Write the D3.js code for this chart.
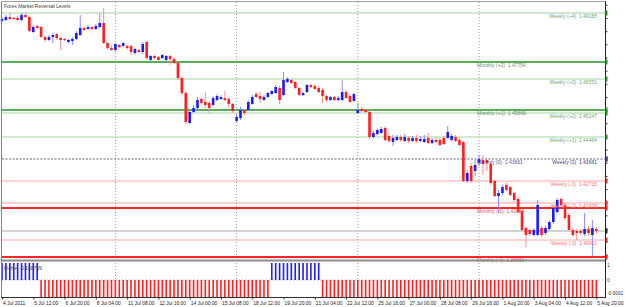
<!DOCTYPE html>
<html>
<head>
<meta charset="utf-8">
<script src="https://cdn.jsdelivr.net/npm/d3@7"></script>
<style>
  html, body { margin: 0; padding: 0; background: #fff; }
  svg { display: block; font-family: "Liberation Sans", Arial, sans-serif; }
  text { white-space: pre; }
</style>
</head>
<body>
<svg id="chart" width="625" height="307"></svg>
<script>
// EURUSD H4, 4 Jul 2011 - 5 Aug 2011
const opens = [
  1.48886,1.48924,1.49038,1.49000,1.49000,1.48924,1.49114,1.49038,1.48468,1.48696,
  1.48658,1.48278,1.48164,1.48278,1.48392,1.48240,1.48202,1.48088,1.48126,1.48202,
  1.48354,1.48620,1.48582,1.48658,1.48582,1.48658,1.48810,1.48050,1.47860,1.47784,
  1.47974,1.47936,1.47936,1.47936,1.47670,1.47784,1.47708,1.48088,1.47404,1.47556,
  1.47518,1.47480,1.47404,1.47556,1.47442,1.47290,1.46720,1.46150,1.45010,1.45428,
  1.45580,1.45922,1.45808,1.45770,1.45694,1.45884,1.45922,1.45960,1.45922,1.45732,
  1.45086,1.45200,1.45504,1.45504,1.45732,1.46112,1.46036,1.45884,1.45998,1.46112,
  1.46150,1.46340,1.46074,1.46568,1.46644,1.46568,1.46340,1.46074,1.46188,1.46454,
  1.46416,1.46340,1.46264,1.46036,1.45884,1.45998,1.45884,1.45884,1.46188,1.46036,
  1.45846,1.45390,1.45542,1.45504,1.45428,1.44478,1.44592,1.44630,1.44820,1.44516,
  1.44288,1.44364,1.44478,1.44326,1.44440,1.44326,1.44440,1.44326,1.44288,1.44440,
  1.44250,1.44364,1.44364,1.44440,1.44440,1.44364,1.44478,1.44364,1.44288,1.42806,
  1.43376,1.43186,1.43490,1.43604,1.43604,1.43452,1.42806,1.42236,1.42350,1.42654,
  1.42578,1.42350,1.42122,1.41666,1.41020,1.40944,1.40754,1.40754,1.41020,1.40830,
  1.40982,1.41248,1.41628,1.42122,1.41894,1.41514,1.40944,1.40906,1.40906,1.40792,
  1.40982,1.40754,1.40982
];
const highs = [
  1.49038,1.49114,1.49190,1.49038,1.49076,1.49190,1.49190,1.49076,1.48734,1.48734,
  1.48696,1.48316,1.48354,1.48430,1.48430,1.48278,1.48240,1.48202,1.48278,1.48506,
  1.49114,1.48658,1.48734,1.48696,1.48772,1.49190,1.49380,1.48088,1.47936,1.48050,
  1.48012,1.48088,1.47974,1.47974,1.47860,1.47822,1.48088,1.48126,1.47594,1.47594,
  1.47556,1.47632,1.47594,1.47594,1.47518,1.47328,1.46796,1.46226,1.45504,1.45694,
  1.45998,1.45998,1.46188,1.45846,1.46036,1.46112,1.46074,1.46226,1.45998,1.45770,
  1.45352,1.45618,1.45542,1.45884,1.46074,1.46188,1.46188,1.46074,1.46188,1.46264,
  1.46454,1.46416,1.46948,1.46758,1.46682,1.46606,1.46378,1.46188,1.46492,1.46492,
  1.46492,1.46416,1.46340,1.46074,1.46036,1.46036,1.46036,1.46644,1.46264,1.46112,
  1.46150,1.45770,1.45618,1.45542,1.45466,1.44706,1.44782,1.44858,1.44896,1.44630,
  1.44554,1.44554,1.44554,1.44592,1.44516,1.44516,1.44554,1.44516,1.44554,1.44630,
  1.44440,1.44478,1.44440,1.44516,1.44896,1.44592,1.44554,1.44440,1.44326,1.43224,
  1.43490,1.43604,1.43794,1.43794,1.43680,1.43528,1.42844,1.42464,1.42654,1.42730,
  1.42616,1.42388,1.42198,1.41704,1.41058,1.40982,1.41020,1.42084,1.41096,1.41096,
  1.41324,1.41894,1.42160,1.42198,1.41970,1.41590,1.41020,1.40982,1.40982,1.41590,
  1.41096,1.41324,1.41058
];
const lows = [
  1.48848,1.48886,1.48924,1.48924,1.48886,1.48886,1.49000,1.48468,1.48430,1.48582,
  1.48240,1.48088,1.48126,1.48050,1.48164,1.47784,1.48126,1.48050,1.47974,1.48164,
  1.48316,1.48506,1.48544,1.48544,1.48544,1.48620,1.48012,1.47784,1.47746,1.47708,
  1.47860,1.47898,1.47784,1.47594,1.47594,1.47670,1.47632,1.47404,1.47366,1.47442,
  1.47366,1.47442,1.47366,1.47214,1.47252,1.46644,1.46074,1.44972,1.44972,1.45390,
  1.45542,1.45732,1.45580,1.45390,1.45656,1.45846,1.45884,1.45846,1.45580,1.45390,
  1.45010,1.45124,1.45314,1.45466,1.45694,1.45960,1.45770,1.45846,1.45960,1.46074,
  1.46112,1.45732,1.46036,1.46530,1.46492,1.46302,1.46036,1.46036,1.46150,1.46340,
  1.46264,1.46150,1.45770,1.45808,1.45846,1.45846,1.45846,1.45846,1.45922,1.45770,
  1.45808,1.45352,1.45428,1.45390,1.44402,1.44440,1.44554,1.44592,1.44326,1.44250,
  1.44136,1.44326,1.44288,1.44288,1.44250,1.44288,1.44250,1.44288,1.44250,1.44212,
  1.44212,1.44250,1.44136,1.44174,1.44402,1.44326,1.44288,1.44136,1.42768,1.42730,
  1.42730,1.42996,1.43376,1.43034,1.43186,1.42654,1.42198,1.41590,1.42274,1.42426,
  1.42236,1.42008,1.41590,1.40906,1.40298,1.40716,1.40716,1.40716,1.40678,1.40754,
  1.40944,1.41172,1.41590,1.41818,1.41324,1.40906,1.40678,1.40564,1.40754,1.40716,
  1.40754,1.39956,1.40792
];
const closes = [
  1.48962,1.49038,1.48962,1.48962,1.48924,1.49114,1.49038,1.48506,1.48658,1.48620,
  1.48278,1.48164,1.48278,1.48354,1.48240,1.48164,1.48164,1.48164,1.48202,1.48430,
  1.48620,1.48544,1.48658,1.48582,1.48696,1.48810,1.48050,1.47860,1.47784,1.48012,
  1.47898,1.48050,1.47860,1.47708,1.47822,1.47708,1.48012,1.47480,1.47556,1.47480,
  1.47404,1.47594,1.47556,1.47442,1.47290,1.46720,1.46150,1.45048,1.45428,1.45580,
  1.45884,1.45770,1.45694,1.45580,1.45960,1.46036,1.45998,1.45884,1.45732,1.45466,
  1.45238,1.45504,1.45390,1.45808,1.45998,1.45998,1.45922,1.45998,1.46150,1.46226,
  1.46378,1.45884,1.46644,1.46682,1.46530,1.46340,1.46074,1.46150,1.46454,1.46378,
  1.46302,1.46188,1.46036,1.45884,1.45998,1.45884,1.45960,1.46188,1.45960,1.45808,
  1.46112,1.45504,1.45466,1.45428,1.44478,1.44630,1.44744,1.44782,1.44364,1.44326,
  1.44440,1.44478,1.44364,1.44478,1.44326,1.44440,1.44326,1.44402,1.44402,1.44250,
  1.44364,1.44288,1.44174,1.44212,1.44668,1.44516,1.44326,1.44174,1.42806,1.43110,
  1.42806,1.43414,1.43642,1.43452,1.43490,1.42730,1.42236,1.42350,1.42578,1.42464,
  1.42274,1.42084,1.41628,1.40944,1.40754,1.40792,1.40944,1.41894,1.40754,1.41020,
  1.41248,1.41780,1.42084,1.41894,1.41400,1.40944,1.40754,1.40830,1.40830,1.40982,
  1.40830,1.41020,1.40906
];

// Fisher histogram, one value per bar
const fisher = [
   1, 1, 1, 1, 1, 1, 1, 1, 1, 1,
  -1,-1,-1,-1,-1,-1,-1,-1,-1,-1,
  -1,-1,-1,-1,-1,-1,-1,-1,-1,-1,
  -1,-1,-1,-1,-1,-1,-1,-1,-1,-1,
  -1,-1,-1,-1,-1,-1,-1,-1,-1,-1,
  -1,-1,-1,-1,-1,-1,-1,-1,-1,-1,
  -1,-1,-1,-1,-1,-1,-1,-1,-1, 1,
   1, 1, 1, 1, 1, 1, 1, 1, 1, 1,
   1, 1,-1,-1,-1,-1,-1,-1,-1,-1,
  -1,-1,-1,-1,-1,-1,-1,-1,-1,-1,
  -1,-1,-1,-1,-1,-1,-1,-1,-1,-1,
  -1,-1,-1,-1,-1,-1,-1,-1,-1,-1,
  -1,-1,-1,-1,-1,-1,-1,-1,-1,-1,
  -1,-1,-1,-1,-1,-1,-1,-1,-1,-1,
  -1,-1,-1,-1,-1,-1,-1,-1,-1,-1,
  -1,-1,-1
];

const tickBars = [0, 8, 16, 24, 32, 40, 48, 56, 64, 72, 80, 88, 96, 104, 112, 120, 128, 136, 144, 152];
const tickLabels = ["4 Jul 2011", "5 Jul 12:00", "6 Jul 20:00", "8 Jul 04:00", "11 Jul 08:00",
  "12 Jul 16:00", "14 Jul 00:00", "15 Jul 08:00", "18 Jul 12:00", "19 Jul 20:00",
  "21 Jul 04:00", "22 Jul 12:00", "25 Jul 16:00", "27 Jul 00:00", "28 Jul 08:00",
  "29 Jul 16:00", "1 Aug 20:00", "3 Aug 04:00", "4 Aug 12:00", "5 Aug 20:00"];
const gridBars = [29, 60, 91, 122];

const levelNames = ["Weekly (+4)", "Monthly (+2)", "Weekly (+3)", "Monthly (+1)", "Weekly (+2)",
  "Weekly (+1)", "Monthly (0)", "Weekly (0)", "Weekly (-1)", "Weekly (-2)",
  "Monthly (-1)", "Weekly (-3)", "Monthly (-2)"];
const levelPrices = [1.49190, 1.47328, 1.46682, 1.45504, 1.45390, 1.44478, 1.43642, 1.43642,
  1.42806, 1.41970, 1.41780, 1.40564, 1.39918];
const levelTexts = ["1.49185", "1.47754", "1.46551", "1.45868", "1.45247", "1.44464", "1.43661",
  "1.43661", "1.42715", "1.41878", "1.41584", "1.40411", "1.39956"];

const subAxisLabels = ["1", "0", "-0.0001"];

const svg = d3.select("#chart");
const W = 625, H = 307;
const left = 2, right = 605, mainTop = 3, mainBottom = 258, subTop = 263, subBottom = 297;

svg.append("rect").attr("width", W).attr("height", H).attr("fill", "#fff");

const x = d3.scaleLinear().domain([0, 152]).range([2, 596.3]);
const y = d3.scaleLinear().domain([1.3988, 1.4957]).range([mainBottom, mainTop]);
const ySub = d3.scaleLinear().domain([-1, 1]).range([subBottom, subTop]);

// vertical grid
svg.append("g").selectAll("line")
  .data(gridBars)
  .enter().append("line")
  .attr("x1", d => x(d)).attr("x2", d => x(d))
  .attr("y1", 2).attr("y2", subBottom)
  .attr("stroke", "#9a9a9a")
  .attr("stroke-dasharray", "1,2");

// levels
const levels = levelNames.map((n, i) => {
  const k = +n.match(/\(([+-]?\d)\)/)[1];
  const monthly = n.startsWith("Monthly");
  let stroke, width, label, dash = null, mark;
  if (k > 0) {
    stroke = monthly ? "#5aac5a" : "#a3d3a3"; width = monthly ? 2 : 1.2;
    label = monthly ? "#6e8f6e" : "#77a477"; mark = "#1e9a1e";
  } else if (k === 0) {
    stroke = "#9c9cae"; width = 1; dash = "2,1.5";
    label = monthly ? "#5a5aa0" : "#46467a"; mark = "#3a3a8a";
  } else {
    stroke = monthly ? "#ff2626" : "#f7a8a8"; width = monthly ? 2 : 1.2;
    label = monthly ? "#e25a5a" : "#f07474"; mark = "#ff2020";
  }
  return { name: n, price: levelPrices[i], text: levelTexts[i], monthly, stroke, width, label, dash, mark };
});

svg.append("g").selectAll("line")
  .data(levels)
  .enter().append("line")
  .attr("x1", left).attr("x2", right)
  .attr("y1", d => y(d.price)).attr("y2", d => y(d.price))
  .attr("stroke", d => d.stroke)
  .attr("stroke-width", d => d.width)
  .attr("stroke-dasharray", d => d.dash);

// bid line
const last = closes.length - 1;
svg.append("line")
  .attr("x1", left).attr("x2", right)
  .attr("y1", y(closes[last])).attr("y2", y(closes[last]))
  .attr("stroke", "#c4c4c4").attr("stroke-width", 1.5);

// candles
const bars = opens.map((o, i) => ({ i, o, h: highs[i], l: lows[i], c: closes[i], up: closes[i] >= opens[i] }));

const candles = svg.append("g");
candles.selectAll("line")
  .data(bars)
  .enter().append("line")
  .attr("x1", d => x(d.i)).attr("x2", d => x(d.i))
  .attr("y1", d => y(d.h)).attr("y2", d => y(d.l))
  .attr("stroke", d => d.up ? "#8a8aff" : "#ff8c8c")
  .attr("stroke-width", 1);

candles.selectAll("rect")
  .data(bars)
  .enter().append("rect")
  .attr("x", d => x(d.i) - 1.3)
  .attr("width", 2.6)
  .attr("y", d => y(Math.max(d.o, d.c)))
  .attr("height", d => Math.max(1, Math.abs(y(d.o) - y(d.c))))
  .attr("fill", d => d.up ? "#1a1aff" : "#ff1e1e");

// level labels
svg.append("g").selectAll("text")
  .data(levels)
  .enter().append("text")
  .attr("x", d => d.monthly ? 477 : 597)
  .attr("y", d => y(d.price) + 5)
  .attr("text-anchor", d => d.monthly ? "start" : "end")
  .attr("font-size", 5)
  .attr("fill", d => d.label)
  .text(d => d.name + "  " + d.text);

svg.append("text")
  .attr("x", 4).attr("y", 8)
  .attr("font-size", 5).attr("fill", "#404040")
  .text("Forex Market Reversal Levels");

// sub window: fisher histogram
svg.append("line")
  .attr("x1", left).attr("x2", right)
  .attr("y1", ySub(0)).attr("y2", ySub(0))
  .attr("stroke", "#9a9a9a").attr("stroke-dasharray", "1,2");

svg.append("g").selectAll("rect")
  .data(fisher)
  .enter().append("rect")
  .attr("x", (d, i) => x(i) - 0.8)
  .attr("width", 1.6)
  .attr("y", d => d > 0 ? ySub(d) : ySub(0))
  .attr("height", d => Math.abs(ySub(d) - ySub(0)))
  .attr("fill", d => d > 0 ? "#1e1eff" : "#ff2020");

svg.append("text")
  .attr("x", 4).attr("y", 270)
  .attr("font-size", 5).attr("fill", "#404040")
  .text("Fisher -0.158739");

// frame
svg.append("line").attr("x1", 1.5).attr("x2", 1.5).attr("y1", 1).attr("y2", subBottom)
  .attr("stroke", "#808080");
svg.append("line").attr("x1", 1).attr("x2", right).attr("y1", 1.5).attr("y2", 1.5)
  .attr("stroke", "#a0a0a0");
svg.append("line").attr("x1", right + 0.5).attr("x2", right + 0.5).attr("y1", 1).attr("y2", subBottom + 1)
  .attr("stroke", "#202020");
svg.append("rect").attr("x", 1).attr("width", right - 1).attr("y", 259.5).attr("height", 2)
  .attr("fill", "#8c8c8c");
svg.append("line").attr("x1", 1).attr("x2", right + 1).attr("y1", subBottom + 0.5).attr("y2", subBottom + 0.5)
  .attr("stroke", "#303030");

// right price axis (labels fall outside the view)
svg.append("g")
  .attr("transform", `translate(${right + 0.5},0)`)
  .call(d3.axisRight(y).ticks(20).tickSize(2).tickFormat(""))
  .call(g => g.select(".domain").remove())
  .selectAll("line").attr("stroke", "#303030");

svg.append("g").selectAll("rect")
  .data(levels)
  .enter().append("rect")
  .attr("x", right + 0.5).attr("width", 2)
  .attr("y", d => y(d.price) - 2.5).attr("height", 5)
  .attr("fill", d => d.mark);
svg.append("rect").attr("x", right + 0.5).attr("width", 2)
  .attr("y", y(closes[last]) - 2.5).attr("height", 5).attr("fill", "#202020");

// sub axis labels
svg.append("g").selectAll("text")
  .data(subAxisLabels)
  .enter().append("text")
  .attr("x", 607)
  .attr("y", (d, i) => [ySub(1) + 4, ySub(0) + 1.5, ySub(-1) - 2][i])
  .attr("font-size", 4.8).attr("fill", "#303030")
  .text(d => d);

// time axis
const xAxis = svg.append("g")
  .attr("transform", `translate(0,${subBottom + 0.5})`)
  .call(d3.axisBottom(x).tickValues(tickBars).tickSize(2)
    .tickFormat((d, i) => tickLabels[i]));
xAxis.select(".domain").remove();
xAxis.selectAll("line").attr("stroke", "#303030");
xAxis.selectAll("text")
  .attr("y", 7).attr("dy", 0).attr("dx", 0.5)
  .attr("text-anchor", "start")
  .attr("font-size", 4.9)
  .attr("font-family", "Liberation Sans, Arial, sans-serif")
  .attr("fill", "#202020");
</script>
</body>
</html>
